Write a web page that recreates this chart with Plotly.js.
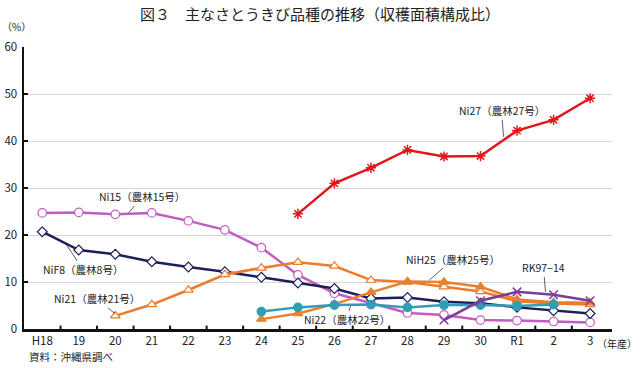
<!DOCTYPE html>
<html><head><meta charset="utf-8">
<script src="https://cdn.plot.ly/plotly-3.0.1.min.js"></script>
<style>body{margin:0;background:#fff}#c{width:640px;height:368px}</style>
</head><body><div id="c"></div>
<script>
const years = ["H18","19","20","21","22","23","24","25","26","27","28","29","30","R1","2","3"];
const ni27  = [null,null,null,null,null,null,null,24.5,31.0,34.3,38.1,36.7,36.8,42.2,44.5,49.1];
const ni15  = [24.7,24.8,24.4,24.7,23.0,21.1,17.3,11.5,7.6,5.5,3.4,3.0,1.9,1.8,1.6,1.4];
const nif8  = [20.7,16.8,15.9,14.3,13.2,12.2,11.0,9.8,8.6,6.5,6.7,5.8,5.5,4.6,3.9,3.3];
const ni21  = [null,null,2.8,5.2,8.3,11.6,13.0,14.2,13.4,10.4,10.0,9.0,8.0,5.9,5.4,5.2];
const nih25 = [null,null,null,null,null,null,2.1,3.3,5.3,7.8,10.1,10.0,9.0,6.3,5.7,5.6];
const ni22  = [null,null,null,null,null,null,3.7,4.6,5.1,5.2,4.6,5.1,5.1,4.9,5.2,null];
const rk97  = [null,null,null,null,null,null,null,null,null,null,null,1.9,6.0,7.9,7.3,6.0];

const idx = years.map((_,i)=>i);
function tr(y, color, sym, fill, size){
  return {x: idx, y: y, type:'scatter', mode:'lines+markers', connectgaps:false,
    line:{color:color, width:2.5},
    marker:{symbol:sym, size:size||8, color:fill, line:{color:color, width:1.2}},
    hoverinfo:'skip', showlegend:false};
}
const data = [
  tr(ni15, '#c25cc2', 'circle', '#ffffff', 8.5),
  tr(nif8, '#1c1f5c', 'diamond', '#ffffff', 7.5),
  tr(ni21, '#ee7a2a', 'triangle-up', '#ffffff', 8.5),
  tr(nih25,'#e9802c', 'triangle-up', '#e9802c', 8.5),
  tr(ni22, '#2f9db4', 'circle', '#2f9db4', 8.5),
  tr(rk97, '#7a3d9c', 'x-thin', '#7a3d9c', 8.5),
  tr(ni27, '#e2161b', 'asterisk', '#e2161b', 8.5),
];
data[5].marker.line.width = 1.5;
data[6].marker.line.width = 1.5;

const f = {family:'"Noto Sans CJK JP", "Liberation Sans", sans-serif', size:11, color:'#222'};
function lab(text, x, y, ax, ay){
  return {text:text, x:x, y:y, xref:'x', yref:'y', ax:ax, ay:ay, showarrow:true,
    arrowhead:0, arrowwidth:0.8, arrowcolor:'#333', font:{...f, size:10.5}, standoff:0, startstandoff:0};
}
const layout = {
  width:640, height:368,
  margin:{l:24, r:28, t:47, b:39},
  paper_bgcolor:'#fff', plot_bgcolor:'#fff',
  title:{text:'図３　主なさとうきび品種の推移（収穫面積構成比）', x:0.5, xanchor:'center', y:0.975, yanchor:'top',
    font:{family:'"Noto Sans CJK JP", sans-serif', size:15, color:'#222'}},
  xaxis:{type:'linear', range:[-0.5,15.6], tickvals:idx, ticktext:years, showgrid:false, zeroline:false,
    showline:true, linecolor:'#111', linewidth:2.5, ticks:'', tickfont:{...f, size:11.5}, fixedrange:true},
  yaxis:{range:[0,60], dtick:10, showgrid:true, gridcolor:'#d6d6d6', gridwidth:1, zeroline:false,
    showline:true, linecolor:'#111', linewidth:2.5, ticks:'inside', ticklen:4, tickwidth:2, tickcolor:'#111',
    tickfont:{...f, size:11.5}, ticklabelstandoff:2, fixedrange:true},
  shapes: idx.slice(0,15).map(i=>({type:'line', xref:'x', yref:'paper', x0:i+0.5, x1:i+0.5, y0:0, y1:0.012,
    line:{color:'#111', width:2}})),
  annotations:[
    {text:'（%）', xref:'paper', yref:'paper', x:-0.04, y:1.04, xanchor:'left', yanchor:'bottom', showarrow:false, font:{...f, size:10}},
    {text:'（年産）', xref:'paper', yref:'paper', x:1.046, y:-0.05, xanchor:'right', yanchor:'middle', showarrow:false, font:{...f, size:10}},
    {text:'資料：沖縄県調べ', xref:'paper', yref:'paper', x:0.005, y:-0.099, xanchor:'left', yanchor:'middle', showarrow:false, font:{...f, size:10.5}},
    lab('Ni15（農林15号）', 2.36, 24.7, 14, -16),
    lab('NiF8（農林8号）', 0.63, 18.3, 18, 27),
    lab('Ni21（農林21号）', 2.0, 3.2, -18, -15),
    lab('Ni22（農林22号）', 8.44, 4.9, -4, 14),
    lab('NiH25（農林25号）', 10.6, 10.4, 24, -21),
    lab('RK97−14', 13.78, 7.9, -2, -24),
    lab('Ni27（農林27号）', 12.63, 40.9, -2, -26),
  ]
};
Plotly.newPlot('c', data, layout, {staticPlot:true, displayModeBar:false});
</script>
</body></html>
